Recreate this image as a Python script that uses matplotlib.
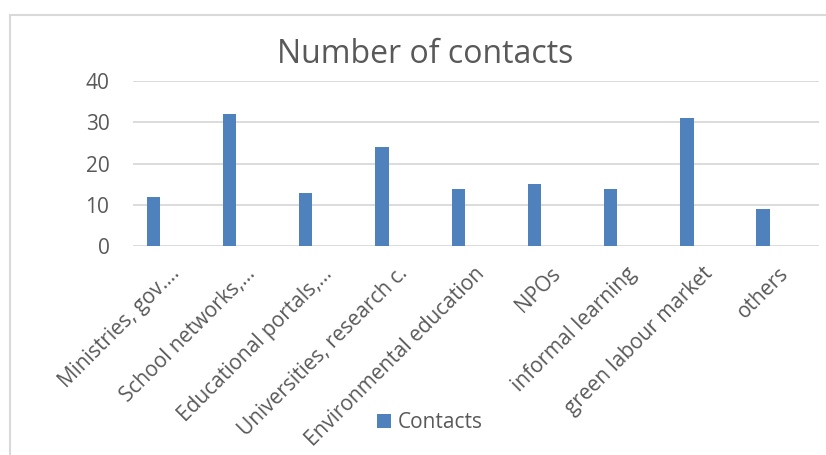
import matplotlib
matplotlib.use("Agg")
import matplotlib.pyplot as plt
import matplotlib.transforms as mtransforms
from matplotlib.patches import Rectangle

categories = ["Ministries, gov.…", "School networks,…", "Educational portals,…",
              "Universities, research c.", "Environmental education", "NPOs",
              "informal learning", "green labour market", "others"]
contacts = [12, 32, 13, 24, 14, 15, 14, 31, 9]
yticks = [0, 10, 20, 30, 40]
series_name = "Contacts"
title = "Number of contacts"

plt.rcParams['font.family'] = ['Open Sans', 'DejaVu Sans']
TXT = '#595959'
GRID = '#D9D9D9'
BAR = '#4F81BD'

fig = plt.figure(figsize=(8.26, 4.55), dpi=100)
fig.patch.set_facecolor('white')

# chart-area border (extends past right/bottom edge)
fig.patches.append(Rectangle((10/826, -0.2), 1.5, 1 - 15/455 + 0.2,
                             transform=fig.transFigure, fill=False,
                             edgecolor=GRID, linewidth=1.5))

ax = fig.add_axes([133/826, 1 - 246.5/455, (819 - 133)/826, (246.5 - 81)/455])
x = list(range(len(categories)))
bar_w = 0.175
group_shift = -0.233  # first slot of a clustered group
bars = ax.bar([i + group_shift for i in x], contacts, width=bar_w, color=BAR,
              label=series_name, zorder=3)
ax.set_xlim(-0.5, len(categories) - 0.5)
ax.set_ylim(0, 40)
ax.set_yticks(yticks)
ax.yaxis.grid(True, color=GRID, linewidth=1.3, zorder=0)
ax.set_axisbelow(True)
for s in ax.spines.values():
    s.set_visible(False)
ax.tick_params(axis='y', length=0, pad=17, labelsize=15, labelcolor=TXT)
ax.tick_params(axis='x', length=0, pad=0, labelsize=15, labelcolor=TXT)
ax.set_xticks(x)
ax.set_xticklabels(categories, rotation=45, ha='right', va='baseline',
                   rotation_mode='anchor')
off = mtransforms.ScaledTranslation(9/100, -28/100, fig.dpi_scale_trans)
for lab in ax.get_xticklabels():
    lab.set_transform(lab.get_transform() + off)

fig.text(425/826, 1 - 62.7/455, title, ha='center', va='baseline',
         fontsize=23, color=TXT)

fig.legend(handles=[bars], labels=[series_name], loc='center',
           bbox_to_anchor=(430/826, 1 - 423/455), frameon=False,
           fontsize=15, labelcolor=TXT, handlelength=0.67, handleheight=0.67,
           handletextpad=0.3, borderpad=0)

fig.savefig('out.png', dpi=100)
